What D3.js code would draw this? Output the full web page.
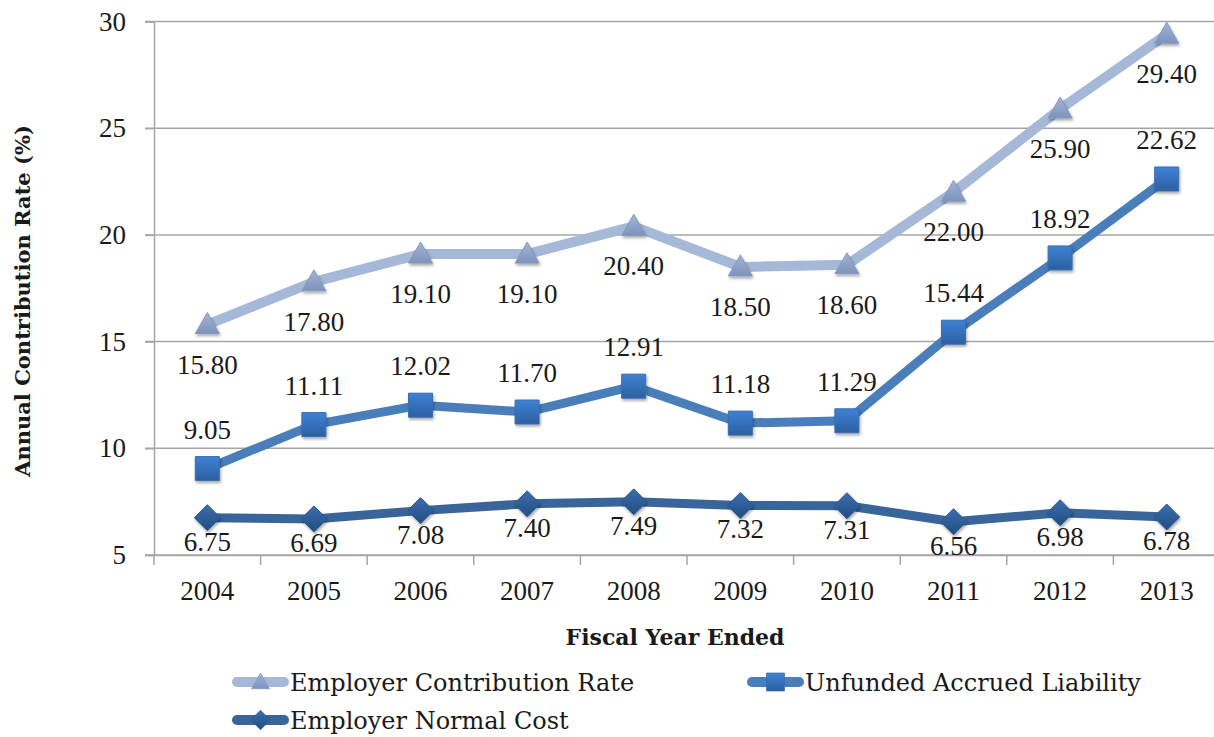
<!DOCTYPE html>
<html>
<head>
<meta charset="utf-8">
<script src="https://cdn.jsdelivr.net/npm/d3@7"></script>
<style>
  body { margin: 0; background: #fff; }
  svg text { font-family: "Liberation Serif", "Times New Roman", serif; fill: #1a1a1a; }
  svg text.words { font-family: "DejaVu Serif", serif; }
</style>
</head>
<body>
<script>
// data
const years = ["2004", "2005", "2006", "2007", "2008", "2009", "2010", "2011", "2012", "2013"];
const contributionRate = [15.80, 17.80, 19.10, 19.10, 20.40, 18.50, 18.60, 22.00, 25.90, 29.40];
const unfundedLiability = [9.05, 11.11, 12.02, 11.70, 12.91, 11.18, 11.29, 15.44, 18.92, 22.62];
const normalCost = [6.75, 6.69, 7.08, 7.40, 7.49, 7.32, 7.31, 6.56, 6.98, 6.78];
const yTicks = [5, 10, 15, 20, 25, 30];

const width = 1214, height = 737;
const plotLeft = 154, plotRight = 1220, plotTop = 21.5, plotBottom = 555;

const series = [
  { name: "Employer Contribution Rate", values: contributionRate, line: "#a5b8d7", lw: 10,
    grad: ["#a3b5d6", "#7d93bc"], stroke: "#8799be", shape: "triangle", labelDy: 49 },
  { name: "Unfunded Accrued Liability", values: unfundedLiability, line: "#4a7ebb", lw: 9,
    grad: ["#3f82d6", "#2c5f9f"], stroke: "#3a6fb0", shape: "square", labelDy: -30 },
  { name: "Employer Normal Cost", values: normalCost, line: "#3a659b", lw: 9,
    grad: ["#3b6fae", "#224c80"], stroke: "#2d5a92", shape: "diamond", labelDy: 33 }
];

const svg = d3.select("body").append("svg")
  .attr("width", width)
  .attr("height", height);

const defs = svg.append("defs");
series.forEach((s, i) => {
  const g = defs.append("linearGradient")
    .attr("id", "grad" + i)
    .attr("x1", 0).attr("y1", 0).attr("x2", 0).attr("y2", 1);
  g.append("stop").attr("offset", "0%").attr("stop-color", s.grad[0]);
  g.append("stop").attr("offset", "100%").attr("stop-color", s.grad[1]);
});
const shadow = defs.append("filter").attr("id", "shadow")
  .attr("x", "-50%").attr("y", "-50%").attr("width", "200%").attr("height", "200%");
shadow.append("feDropShadow")
  .attr("dx", 1).attr("dy", 2).attr("stdDeviation", 1.5)
  .attr("flood-color", "#000").attr("flood-opacity", 0.35);

const x = d3.scaleBand().domain(years).range([plotLeft, plotRight]);
const y = d3.scaleLinear().domain([5, 30]).range([plotBottom, plotTop]);
const cx = d => x(d) + x.bandwidth() / 2;

// gridlines
svg.append("g").selectAll("line")
  .data(yTicks)
  .enter().append("line")
  .attr("x1", plotLeft - 9).attr("x2", plotRight)
  .attr("y1", d => y(d)).attr("y2", d => y(d))
  .attr("stroke", "#a6a6a6").attr("stroke-width", 1.5);

// y axis
const yAxis = svg.append("g")
  .attr("transform", `translate(${plotLeft},0)`)
  .call(d3.axisLeft(y).tickValues(yTicks).tickSize(9).tickPadding(19));
yAxis.select(".domain").attr("stroke", "#a6a6a6").attr("stroke-width", 1.5);
yAxis.selectAll(".tick line").attr("stroke", "#a6a6a6").attr("stroke-width", 1.5);
yAxis.selectAll(".tick text")
  .attr("font-size", 27).attr("fill", "#1a1a1a")
  .style("font-family", "Liberation Serif, serif");

// x axis
const xAxis = svg.append("g")
  .attr("transform", `translate(0,${plotBottom})`)
  .call(d3.axisBottom(x).tickSize(0).tickPadding(26));
xAxis.select(".domain").attr("stroke", "#a6a6a6").attr("stroke-width", 1.5);
xAxis.selectAll(".tick text")
  .attr("font-size", 27).attr("fill", "#1a1a1a")
  .style("font-family", "Liberation Serif, serif");
// tick marks between categories
svg.append("g").selectAll("line")
  .data(d3.range(years.length + 1))
  .enter().append("line")
  .attr("x1", i => plotLeft + i * x.step()).attr("x2", i => plotLeft + i * x.step())
  .attr("y1", plotBottom).attr("y2", plotBottom + 10)
  .attr("stroke", "#a6a6a6").attr("stroke-width", 1.5);

// axis titles
svg.append("text")
  .attr("class", "words")
  .attr("x", 675).attr("y", 645)
  .attr("text-anchor", "middle")
  .attr("font-size", 22).attr("font-weight", "bold")
  .text("Fiscal Year Ended");
svg.append("text")
  .attr("class", "words")
  .attr("transform", "translate(30,301) rotate(-90)")
  .attr("text-anchor", "middle")
  .attr("font-size", 21).attr("font-weight", "bold")
  .text("Annual Contribution Rate (%)");

function markerPath(shape) {
  if (shape === "triangle") return "M0,-12 L12,9 L-12,9 Z";
  if (shape === "square") return "M-12,-12 H12 V12 H-12 Z";
  return "M0,-13 L13,0 L0,13 L-13,0 Z";
}

const line = d3.line().x(d => cx(d.year)).y(d => y(d.v));

series.forEach((s, i) => {
  const pts = years.map((yr, j) => ({ year: yr, v: s.values[j] }));
  const g = svg.append("g");
  g.append("path")
    .datum(pts)
    .attr("d", line)
    .attr("fill", "none")
    .attr("stroke", s.line)
    .attr("stroke-width", s.lw)
    .attr("stroke-linejoin", "round");
  g.selectAll(".marker")
    .data(pts)
    .enter().append("path")
    .attr("class", "marker")
    .attr("transform", d => `translate(${cx(d.year)},${y(d.v)})`)
    .attr("d", markerPath(s.shape))
    .attr("fill", `url(#grad${i})`)
    .attr("stroke", s.stroke)
    .attr("stroke-width", 1)
    .attr("filter", "url(#shadow)");
});

// labels on top
series.forEach(s => {
  svg.append("g").selectAll("text")
    .data(years.map((yr, j) => ({ year: yr, v: s.values[j] })))
    .enter().append("text")
    .attr("x", d => cx(d.year))
    .attr("y", d => y(d.v) + s.labelDy)
    .attr("text-anchor", "middle")
    .attr("font-size", 27)
    .text(d => d.v.toFixed(2));
});

// legend
const legendPos = [[233, 682], [748, 682], [233, 720]];
series.forEach((s, i) => {
  const [lx, ly] = legendPos[i];
  const g = svg.append("g").attr("transform", `translate(${lx},${ly})`);
  g.append("line")
    .attr("x1", 4).attr("x2", 51).attr("y1", 0).attr("y2", 0)
    .attr("stroke", s.line).attr("stroke-width", 10)
    .attr("stroke-linecap", "round");
  g.append("path")
    .attr("transform", "translate(27.5,0) scale(0.75)")
    .attr("d", markerPath(s.shape))
    .attr("fill", `url(#grad${i})`)
    .attr("stroke", s.stroke);
  g.append("text")
    .attr("class", "words")
    .attr("x", 57).attr("y", 9)
    .attr("font-size", 24)
    .text(s.name);
});
</script>
</body>
</html>
